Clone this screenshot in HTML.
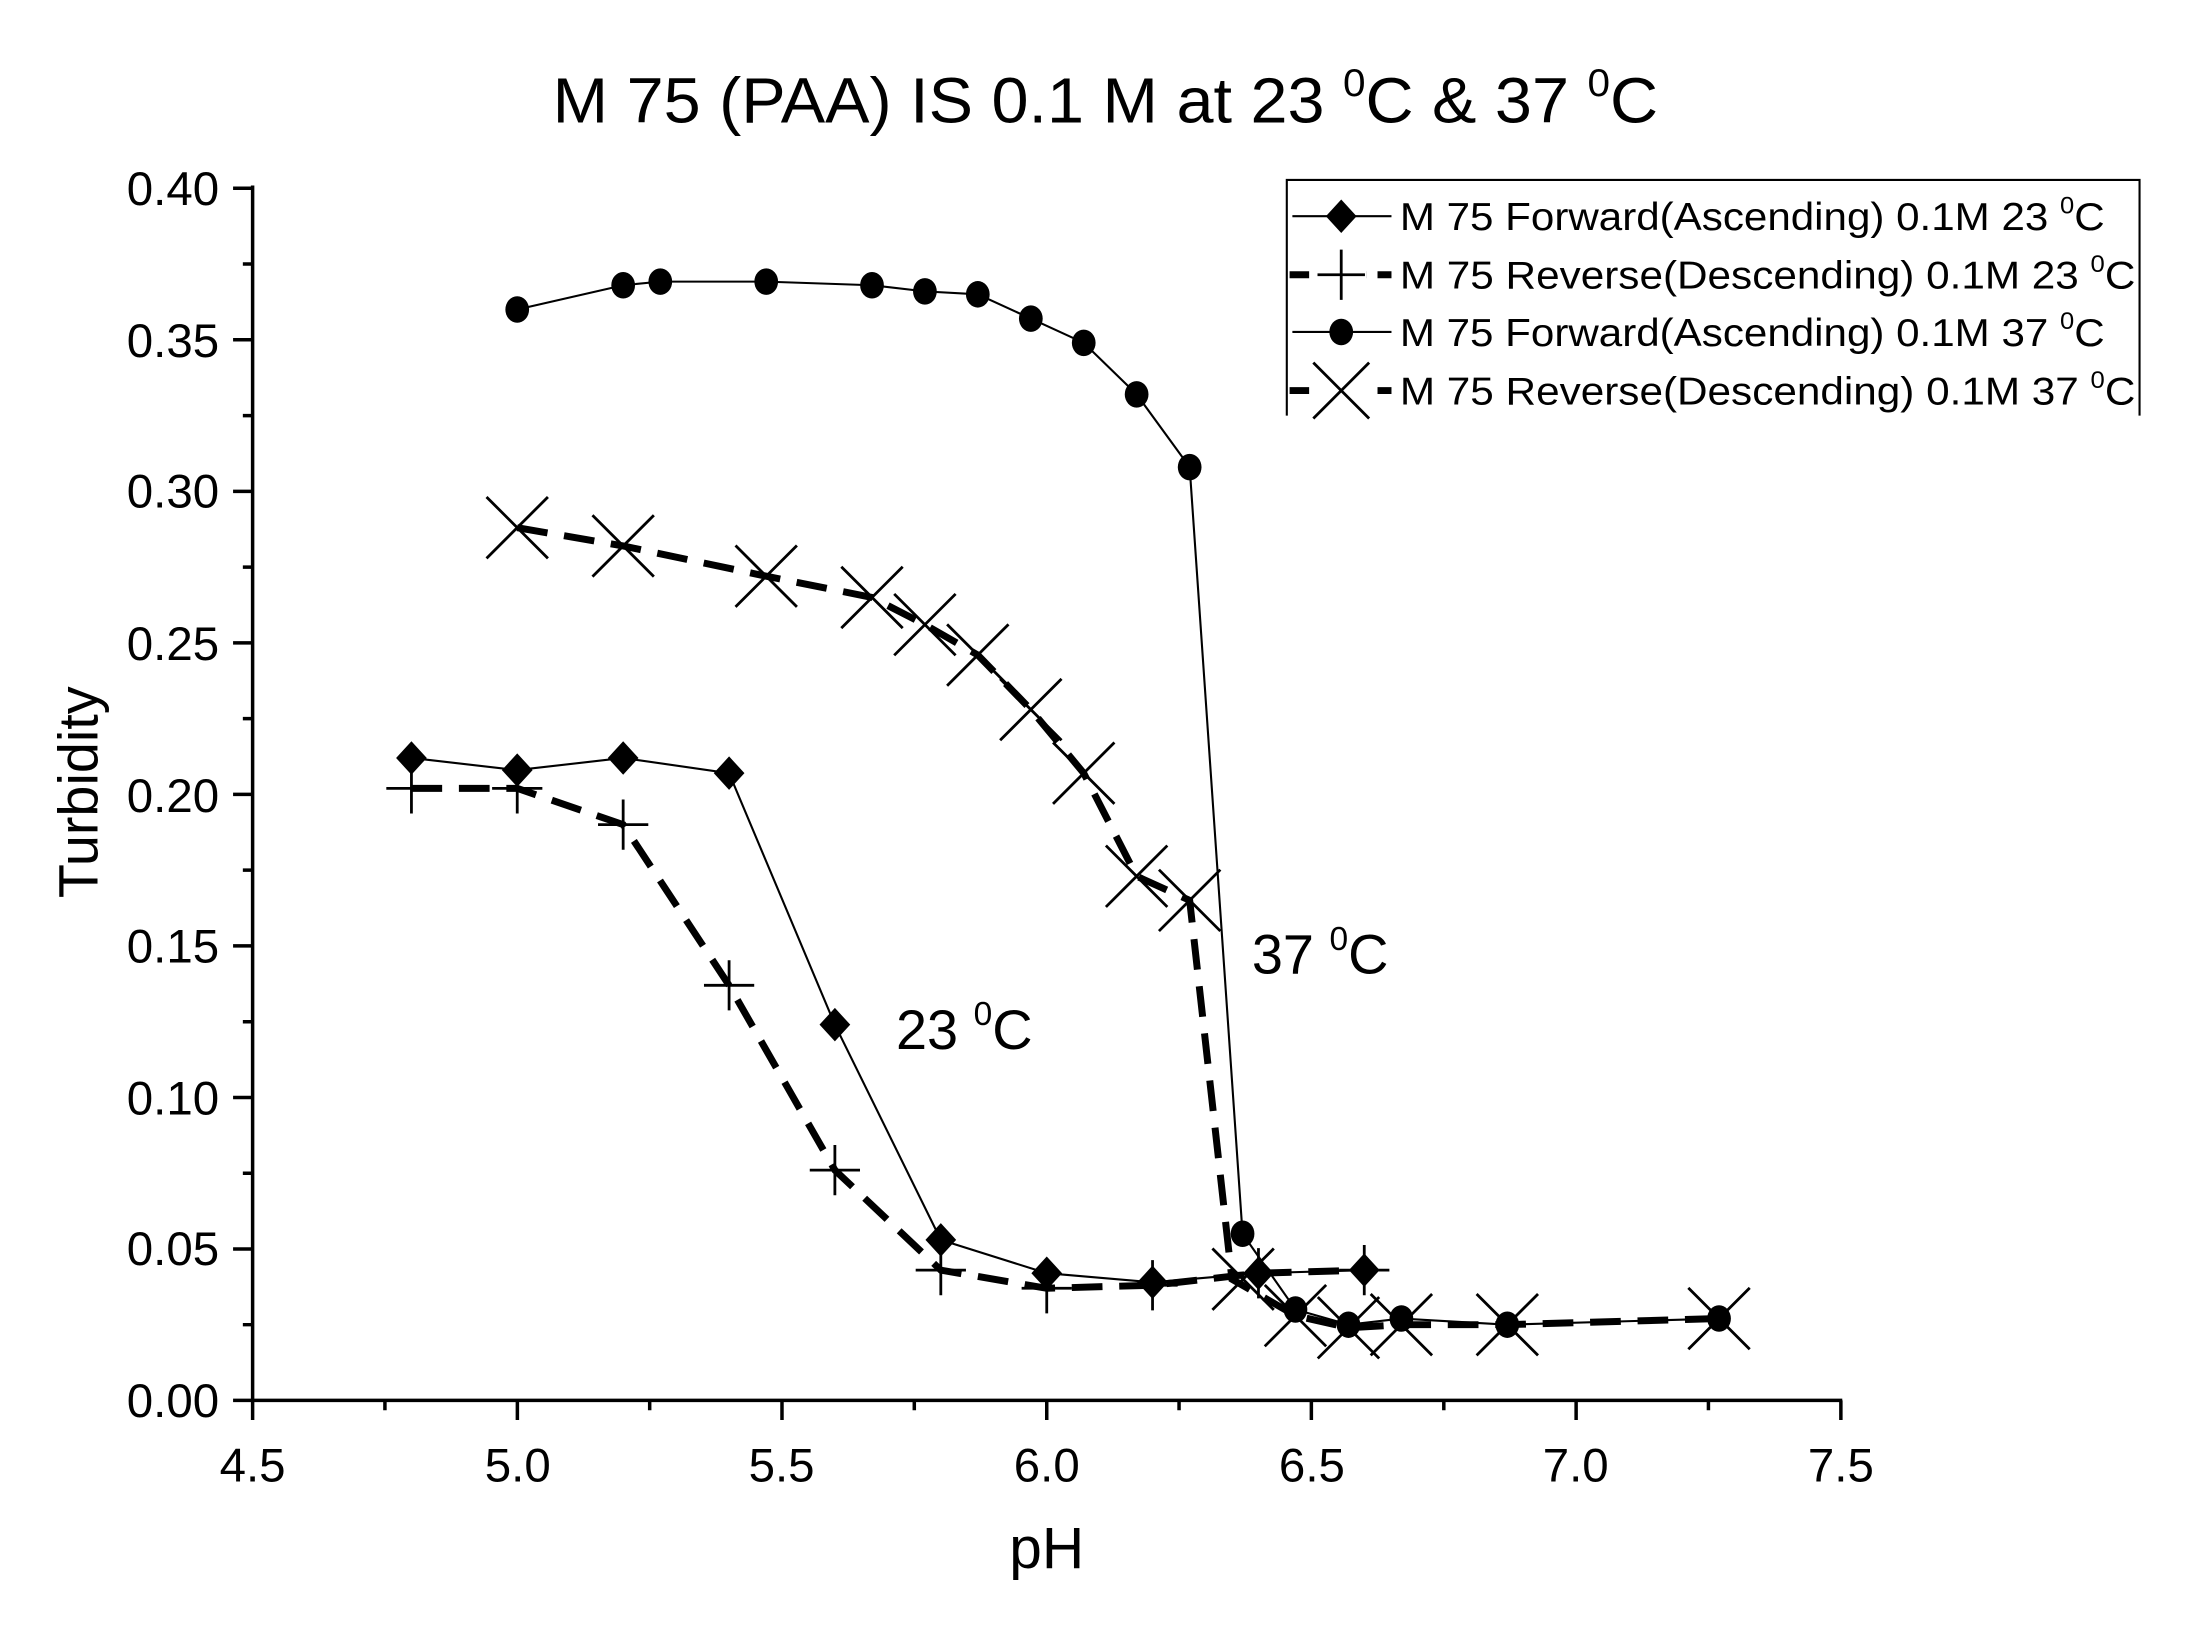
<!DOCTYPE html>
<html><head><meta charset="utf-8"><style>
html,body{margin:0;padding:0;background:#fff;}
svg{display:block;}
text{font-family:"Liberation Sans",Arial,sans-serif;fill:#000;}
</style></head><body>
<svg width="2187" height="1625" viewBox="0 0 1567 1165" preserveAspectRatio="none" xmlns="http://www.w3.org/2000/svg">
<rect width="1567" height="1165" fill="#fff"/>
<text x="396" y="88" font-size="46" textLength="792" lengthAdjust="spacingAndGlyphs">M 75 (PAA) IS 0.1 M at 23 <tspan font-size="28" dy="-19">0</tspan><tspan dy="19">C &amp; 37 </tspan><tspan font-size="28" dy="-19">0</tspan><tspan dy="19">C</tspan></text>
<g stroke="#000" stroke-width="2.5" fill="none">
<line x1="181" y1="133" x2="181" y2="1005"/>
<line x1="180" y1="1004" x2="1320" y2="1004"/>
<path d="M167 1004H181M167 895.4H181M167 786.8H181M167 678.1H181M167 569.5H181M167 460.9H181M167 352.3H181M167 243.6H181M167 135H181"/>
<path d="M174 949.7H181M174 841.1H181M174 732.5H181M174 623.8H181M174 515.2H181M174 406.6H181M174 298H181M174 189.3H181"/>
<path d="M181 1004V1018M370.7 1004V1018M560.3 1004V1018M750 1004V1018M939.6 1004V1018M1129.3 1004V1018M1319 1004V1018"/>
<path d="M275.8 1004V1011M465.5 1004V1011M655.1 1004V1011M844.8 1004V1011M1034.5 1004V1011M1224.1 1004V1011"/>
</g>
<g font-size="34" text-anchor="end">
<text x="157" y="1016">0.00</text><text x="157" y="907">0.05</text><text x="157" y="799">0.10</text>
<text x="157" y="690">0.15</text><text x="157" y="582">0.20</text><text x="157" y="473">0.25</text>
<text x="157" y="364">0.30</text><text x="157" y="256">0.35</text><text x="157" y="147">0.40</text>
</g>
<g font-size="34" text-anchor="middle">
<text x="181" y="1062">4.5</text><text x="371" y="1062">5.0</text><text x="560" y="1062">5.5</text>
<text x="750" y="1062">6.0</text><text x="940" y="1062">6.5</text><text x="1129" y="1062">7.0</text><text x="1319" y="1062">7.5</text>
</g>
<text x="750" y="1124" font-size="42" text-anchor="middle">pH</text>
<text transform="translate(70,568) rotate(-90)" font-size="40" text-anchor="middle">Turbidity</text>
<text x="642" y="752" font-size="40">23 <tspan font-size="24" dy="-17">0</tspan><tspan dy="17">C</tspan></text>
<text x="897" y="698" font-size="40">37 <tspan font-size="24" dy="-17">0</tspan><tspan dy="17">C</tspan></text>

<polyline fill="none" stroke="#000" stroke-width="5" stroke-dasharray="22,12" points="370.6,378.3 446.5,391.4 549,413.1 624.8,428.3 662.7,447.8 700.6,469.6 738.6,508.7 776.5,554.3 814.4,628.2 852.4,645.5 882.7,917.1 928.2,943.2 966.2,951.9 1004.1,949.7 1080,949.7 1231.7,945.3"/>
<polyline fill="none" stroke="#000" stroke-width="5" stroke-dasharray="22,12" points="294.8,565.2 370.6,565.2 446.5,591.2 522.4,706.4 598.2,838.9 674.1,910.6 750,923.6 825.8,921.4 901.7,912.8 977.5,910.6"/>
<polyline fill="none" stroke="#000" stroke-width="1.5" points="294.8,543.4 370.6,552.1 446.5,543.4 522.4,554.3 598.2,734.6 674.1,888.9 750,912.8 825.8,919.3 901.7,912.8 977.5,910.6"/>
<polyline fill="none" stroke="#000" stroke-width="1.5" points="370.6,221.9 446.5,204.5 473.1,201.9 549,201.9 624.8,204.5 662.7,208.9 700.6,211 738.6,228.4 776.5,245.8 814.4,282.7 852.4,334.9 890.3,884.5 928.2,938.8 966.2,949.7 1004.1,945.3 1080,949.7 1231.7,945.3"/>

<g stroke="#000" stroke-width="2" fill="none">
<path d="M348.6 356.3l44 44M392.6 356.3l-44 44"/>
<path d="M424.5 369.4l44 44M468.5 369.4l-44 44"/>
<path d="M527 391.1l44 44M571 391.1l-44 44"/>
<path d="M602.8 406.3l44 44M646.8 406.3l-44 44"/>
<path d="M640.7 425.8l44 44M684.7 425.8l-44 44"/>
<path d="M678.6 447.6l44 44M722.6 447.6l-44 44"/>
<path d="M716.6 486.7l44 44M760.6 486.7l-44 44"/>
<path d="M754.5 532.3l44 44M798.5 532.3l-44 44"/>
<path d="M792.4 606.2l44 44M836.4 606.2l-44 44"/>
<path d="M830.4 623.5l44 44M874.4 623.5l-44 44"/>
<path d="M868.7 895.1l44 44M912.7 895.1l-44 44"/>
<path d="M906.2 921.2l44 44M950.2 921.2l-44 44"/>
<path d="M944.2 929.9l44 44M988.2 929.9l-44 44"/>
<path d="M982.1 927.7l44 44M1026.1 927.7l-44 44"/>
<path d="M1058 927.7l44 44M1102 927.7l-44 44"/>
<path d="M1209.7 923.3l44 44M1253.7 923.3l-44 44"/>
</g>
<g stroke="#000" stroke-width="2" fill="none">
<path d="M276.8 565.2h36M294.8 547.2v36"/>
<path d="M352.6 565.2h36M370.6 547.2v36"/>
<path d="M428.5 591.2h36M446.5 573.2v36"/>
<path d="M504.4 706.4h36M522.4 688.4v36"/>
<path d="M580.2 838.9h36M598.2 820.9v36"/>
<path d="M656.1 910.6h36M674.1 892.6v36"/>
<path d="M732 923.6h36M750 905.6v36"/>
<path d="M807.8 921.4h36M825.8 903.4v36"/>
<path d="M883.7 912.8h36M901.7 894.8v36"/>
<path d="M959.5 910.6h36M977.5 892.6v36"/>
</g>
<g fill="#000">
<path d="M294.8 531.4l11 12-11 12-11-12z"/>
<path d="M370.6 540.1l11 12-11 12-11-12z"/>
<path d="M446.5 531.4l11 12-11 12-11-12z"/>
<path d="M522.4 542.3l11 12-11 12-11-12z"/>
<path d="M598.2 722.6l11 12-11 12-11-12z"/>
<path d="M674.1 876.9l11 12-11 12-11-12z"/>
<path d="M750 900.8l11 12-11 12-11-12z"/>
<path d="M825.8 907.3l11 12-11 12-11-12z"/>
<path d="M901.7 900.8l11 12-11 12-11-12z"/>
<path d="M977.5 898.6l11 12-11 12-11-12z"/>
</g>
<g fill="#000">
<ellipse cx="370.6" cy="221.9" rx="8.5" ry="9.5"/><ellipse cx="446.5" cy="204.5" rx="8.5" ry="9.5"/>
<ellipse cx="473.1" cy="201.9" rx="8.5" ry="9.5"/><ellipse cx="549" cy="201.9" rx="8.5" ry="9.5"/>
<ellipse cx="624.8" cy="204.5" rx="8.5" ry="9.5"/><ellipse cx="662.7" cy="208.9" rx="8.5" ry="9.5"/>
<ellipse cx="700.6" cy="211" rx="8.5" ry="9.5"/><ellipse cx="738.6" cy="228.4" rx="8.5" ry="9.5"/>
<ellipse cx="776.5" cy="245.8" rx="8.5" ry="9.5"/><ellipse cx="814.4" cy="282.7" rx="8.5" ry="9.5"/>
<ellipse cx="852.4" cy="334.9" rx="8.5" ry="9.5"/><ellipse cx="890.3" cy="884.5" rx="8.5" ry="9.5"/>
<ellipse cx="928.2" cy="938.8" rx="8.5" ry="9.5"/><ellipse cx="966.2" cy="949.7" rx="8.5" ry="9.5"/>
<ellipse cx="1004.1" cy="945.3" rx="8.5" ry="9.5"/><ellipse cx="1080" cy="949.7" rx="8.5" ry="9.5"/>
<ellipse cx="1231.7" cy="945.3" rx="8.5" ry="9.5"/>
</g>

<rect x="922" y="129" width="611" height="170" fill="#fff"/>
<path d="M922 298V129H1533V298" fill="none" stroke="#000" stroke-width="1.5"/>
<g stroke="#000" fill="none">
<line x1="926" y1="155" x2="997" y2="155" stroke-width="1.5"/>
<line x1="924" y1="197" x2="997" y2="197" stroke-width="5" stroke-dasharray="14,8,33,8,14"/>
<line x1="926" y1="238" x2="997" y2="238" stroke-width="1.5"/>
<line x1="924" y1="280" x2="997" y2="280" stroke-width="5" stroke-dasharray="14,8,33,8,14"/>
</g>
<rect x="943" y="193" width="36" height="8" fill="#fff"/>
<rect x="940" y="276" width="42" height="8" fill="#fff"/>
<path d="M961 179v36M944 197h34" stroke="#000" stroke-width="2" fill="none"/>
<path d="M941 260l40 40M981 260l-40 40" stroke="#000" stroke-width="2" fill="none"/>
<path d="M961 143l11 12-11 12-11-12z" fill="#000"/>
<ellipse cx="961" cy="238" rx="8.5" ry="9.5" fill="#000"/>
<g font-size="28">
<text x="1003" y="165" textLength="505" lengthAdjust="spacingAndGlyphs">M 75 Forward(Ascending) 0.1M 23 <tspan font-size="17" dy="-12">0</tspan><tspan dy="12">C</tspan></text>
<text x="1003" y="207" textLength="527" lengthAdjust="spacingAndGlyphs">M 75 Reverse(Descending) 0.1M 23 <tspan font-size="17" dy="-12">0</tspan><tspan dy="12">C</tspan></text>
<text x="1003" y="248" textLength="505" lengthAdjust="spacingAndGlyphs">M 75 Forward(Ascending) 0.1M 37 <tspan font-size="17" dy="-12">0</tspan><tspan dy="12">C</tspan></text>
<text x="1003" y="290" textLength="527" lengthAdjust="spacingAndGlyphs">M 75 Reverse(Descending) 0.1M 37 <tspan font-size="17" dy="-12">0</tspan><tspan dy="12">C</tspan></text>
</g>
</svg>
</body></html>
